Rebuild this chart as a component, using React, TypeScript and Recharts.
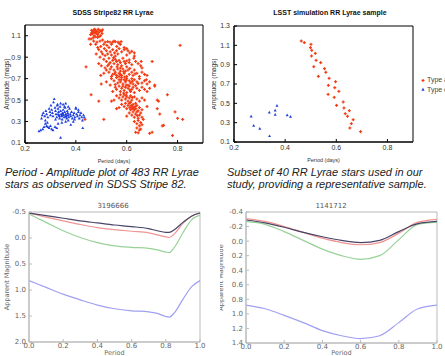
import React from 'react';
import {
  ScatterChart, Scatter, LineChart, Line, XAxis, YAxis, ReferenceArea, Legend,
} from 'recharts';

// SDSS Stripe 82: [period (days), amplitude (mags)]
const sdssTypeAb: [number, number][] = [
  [0.462,1.15],[0.468,1.14],[0.471,1.155],[0.475,1.13],[0.466,1.12],[0.478,1.15],[0.483,1.14],[0.472,1.10],
  [0.48,1.12],[0.486,1.11],[0.463,1.13],[0.49,1.13],[0.495,1.15],[0.5,1.14],[0.503,1.12],[0.476,1.09],
  [0.468,1.08],[0.485,1.085],[0.497,1.10],[0.505,1.155],[0.458,1.11],[0.474,1.16],[0.488,1.16],[0.46,1.07],
  [0.491,1.09],[0.452,1.07],[0.47,1.05],[0.458,1.02],
  [0.515,1.04],[0.525,1.045],[0.534,1.04],[0.545,1.04],[0.555,1.045],[0.566,1.04],[0.578,1.045],[0.505,1.06],
  [0.495,1.05],[0.483,1.04],[0.51,1.02],[0.522,1.01],[0.478,1.02],[0.498,1.00],[0.486,0.99],[0.54,1.02],
  [0.561,1.00],[0.575,1.02],[0.59,0.99],[0.6,0.98],[0.55,1.05],[0.57,1.03],
  [0.49,0.97],[0.5,0.95],[0.512,0.98],[0.52,0.96],[0.53,0.99],[0.535,0.95],[0.545,0.97],[0.552,0.94],
  [0.56,0.96],[0.57,0.98],[0.58,0.95],[0.59,0.97],[0.605,0.96],[0.612,0.94],[0.62,0.955],[0.505,0.93],
  [0.515,0.915],[0.525,0.93],[0.54,0.92],[0.555,0.91],[0.565,0.93],[0.6,0.92],[0.63,0.91],[0.628,0.89],
  [0.48,0.93],[0.495,0.90],
  [0.51,0.88],[0.52,0.86],[0.53,0.89],[0.535,0.85],[0.545,0.87],[0.55,0.84],[0.555,0.88],[0.56,0.86],
  [0.565,0.83],[0.57,0.87],[0.575,0.85],[0.58,0.82],[0.59,0.86],[0.595,0.84],[0.6,0.81],[0.61,0.85],
  [0.62,0.83],[0.635,0.86],[0.645,0.84],[0.655,0.82],[0.66,0.80],[0.54,0.81],[0.525,0.82],[0.515,0.80],
  [0.49,0.84],[0.50,0.82],[0.575,0.80],[0.585,0.89],[0.548,0.895],[0.61,0.875],[0.44,0.81],[0.53,0.835],
  [0.562,0.81],[0.6,0.865],[0.657,0.86],[0.63,0.94],
  [0.52,0.78],[0.53,0.76],[0.535,0.79],[0.545,0.74],[0.55,0.78],[0.555,0.76],[0.56,0.73],[0.565,0.79],
  [0.57,0.75],[0.575,0.77],[0.58,0.73],[0.585,0.79],[0.59,0.75],[0.595,0.77],[0.6,0.72],[0.605,0.78],
  [0.61,0.74],[0.62,0.76],[0.625,0.73],[0.63,0.78],[0.64,0.75],[0.65,0.72],[0.66,0.76],[0.67,0.74],
  [0.68,0.73],[0.51,0.75],[0.498,0.73],[0.54,0.72],[0.57,0.72],[0.588,0.765],[0.612,0.795],[0.553,0.745],
  [0.633,0.745],[0.575,0.74],
  [0.54,0.70],[0.55,0.68],[0.56,0.71],[0.565,0.66],[0.57,0.69],[0.575,0.67],[0.58,0.71],[0.585,0.65],
  [0.59,0.69],[0.595,0.67],[0.6,0.70],[0.605,0.64],[0.61,0.68],[0.615,0.66],[0.62,0.70],[0.625,0.65],
  [0.63,0.69],[0.64,0.67],[0.65,0.70],[0.66,0.66],[0.67,0.68],[0.68,0.65],[0.69,0.67],[0.71,0.64],
  [0.52,0.67],[0.50,0.65],[0.535,0.64],[0.555,0.645],[0.578,0.69],[0.598,0.685],[0.622,0.675],[0.645,0.655],
  [0.592,0.715],[0.677,0.69],
  [0.555,0.62],[0.56,0.60],[0.57,0.63],[0.575,0.58],[0.58,0.61],[0.585,0.63],[0.59,0.59],[0.595,0.62],
  [0.6,0.57],[0.605,0.61],[0.61,0.63],[0.615,0.58],[0.62,0.60],[0.625,0.62],[0.63,0.57],[0.64,0.61],
  [0.65,0.59],[0.66,0.62],[0.67,0.60],[0.68,0.58],[0.69,0.61],[0.545,0.58],[0.588,0.565],[0.612,0.595],
  [0.635,0.635],[0.598,0.64],[0.46,0.55],
  [0.56,0.54],[0.57,0.52],[0.575,0.55],[0.58,0.50],[0.585,0.53],[0.59,0.55],[0.595,0.51],[0.6,0.53],
  [0.605,0.49],[0.61,0.52],[0.615,0.54],[0.62,0.50],[0.63,0.53],[0.64,0.51],[0.65,0.49],[0.66,0.52],
  [0.67,0.50],[0.55,0.50],[0.54,0.49],[0.49,0.49],[0.598,0.545],[0.622,0.525],[0.72,0.50],[0.725,0.49],
  [0.76,0.55],
  [0.58,0.46],[0.59,0.44],[0.595,0.47],[0.6,0.42],[0.605,0.45],[0.61,0.47],[0.612,0.43],[0.615,0.41],
  [0.618,0.45],[0.62,0.44],[0.622,0.42],[0.625,0.46],[0.628,0.43],[0.63,0.41],[0.633,0.44],[0.636,0.42],
  [0.64,0.45],[0.645,0.40],[0.65,0.43],[0.66,0.41],[0.57,0.43],[0.56,0.42],[0.615,0.48],[0.635,0.47],
  [0.72,0.42],[0.68,0.44],
  [0.61,0.38],[0.62,0.36],[0.625,0.39],[0.63,0.34],[0.635,0.37],[0.64,0.39],[0.645,0.33],[0.65,0.36],
  [0.655,0.38],[0.66,0.34],[0.665,0.32],[0.6,0.35],[0.642,0.355],[0.73,0.37],[0.79,0.39],[0.8,0.33],
  [0.82,0.32],[0.51,0.32],[0.436,0.32],
  [0.63,0.30],[0.64,0.28],[0.645,0.31],[0.65,0.26],[0.655,0.29],[0.66,0.27],[0.64,0.24],[0.65,0.22],
  [0.635,0.20],[0.645,0.195],[0.655,0.23],[0.69,0.19],[0.70,0.20],[0.74,0.26],[0.745,0.265],[0.78,0.17],
  [0.81,1.01],[0.70,0.86],[0.71,0.63],
];

const sdssTypeC: [number, number][] = [
  [0.255,0.21],[0.262,0.22],[0.27,0.23],[0.275,0.25],[0.28,0.28],[0.285,0.26],[0.29,0.25],[0.295,0.24],
  [0.3,0.26],[0.305,0.23],[0.31,0.22],[0.318,0.25],[0.325,0.24],[0.265,0.33],[0.268,0.36],[0.272,0.38],
  [0.278,0.35],[0.282,0.40],[0.285,0.37],[0.29,0.34],[0.295,0.42],[0.298,0.39],[0.3,0.36],[0.302,0.45],
  [0.305,0.41],[0.308,0.38],[0.31,0.35],[0.312,0.48],[0.315,0.51],[0.318,0.43],[0.32,0.40],[0.322,0.37],
  [0.325,0.34],[0.327,0.45],[0.33,0.42],[0.332,0.39],[0.334,0.36],[0.336,0.33],[0.338,0.44],[0.34,0.40],
  [0.342,0.37],[0.344,0.35],[0.346,0.32],[0.348,0.38],[0.35,0.41],[0.352,0.36],[0.354,0.34],[0.356,0.39],
  [0.358,0.43],[0.36,0.37],[0.362,0.35],[0.364,0.33],[0.366,0.40],[0.368,0.38],[0.37,0.36],[0.372,0.34],
  [0.375,0.42],[0.378,0.37],[0.38,0.35],[0.383,0.39],[0.386,0.33],[0.39,0.36],[0.393,0.38],[0.396,0.34],
  [0.4,0.42],[0.403,0.37],[0.406,0.35],[0.41,0.39],[0.413,0.33],[0.416,0.36],[0.42,0.38],[0.423,0.34],
  [0.426,0.31],[0.43,0.36],[0.433,0.34],[0.427,0.24],[0.34,0.15],[0.33,0.28],[0.345,0.29],[0.36,0.30],
  [0.37,0.31],[0.38,0.27],[0.39,0.30],[0.35,0.46],[0.36,0.47],[0.355,0.44],[0.328,0.46],[0.34,0.47],
  [0.37,0.44],[0.4,0.43],[0.41,0.41],[0.395,0.32],[0.335,0.35],[0.345,0.355],[0.36,0.345],[0.365,0.36],
  [0.35,0.37],[0.33,0.37],[0.32,0.32],[0.28,0.31],[0.288,0.29],
];

// LSST simulation subset (40 stars)
const lsstTypeAb: [number, number][] = [
  [0.463,1.145],[0.475,1.128],[0.501,1.110],[0.499,1.076],[0.504,1.048],[0.518,1.017],[0.503,0.990],
  [0.521,0.945],[0.512,0.879],[0.539,0.921],[0.554,0.859],[0.559,0.821],[0.530,0.779],[0.572,0.759],
  [0.597,0.724],[0.569,0.686],[0.594,0.662],[0.610,0.624],[0.568,0.593],[0.592,0.562],[0.601,0.479],
  [0.627,0.514],[0.630,0.452],[0.651,0.424],[0.635,0.393],[0.644,0.366],[0.666,0.331],[0.659,0.290],
  [0.653,0.245],[0.695,0.207],
];
const lsstTypeC: [number, number][] = [
  [0.267,0.366],[0.277,0.269],[0.301,0.238],[0.338,0.407],[0.361,0.428],[0.368,0.476],[0.361,0.383],
  [0.408,0.379],[0.421,0.362],[0.339,0.162],
];

// light curves: phase and apparent magnitude per band
const phaseA = [0, 0.1, 0.2, 0.3, 0.4, 0.5, 0.6, 0.7, 0.75, 0.8, 0.82, 0.85, 0.9, 0.95, 1.0];
const blackA = [-0.48, -0.43, -0.38, -0.33, -0.29, -0.25, -0.22, -0.18, -0.14, -0.11, -0.11, -0.16, -0.30, -0.42, -0.48];
const redA = [-0.48, -0.40, -0.33, -0.26, -0.20, -0.16, -0.13, -0.10, -0.06, -0.02, -0.01, -0.08, -0.28, -0.42, -0.48];
const greenA = [-0.46, -0.30, -0.14, -0.01, 0.09, 0.15, 0.18, 0.20, 0.23, 0.27, 0.28, 0.18, -0.10, -0.35, -0.44];
const blueA = [0.82, 0.95, 1.08, 1.19, 1.29, 1.36, 1.40, 1.42, 1.45, 1.51, 1.52, 1.44, 1.18, 0.94, 0.82];

const phaseB = [0, 0.1, 0.2, 0.3, 0.4, 0.5, 0.6, 0.7, 0.8, 0.9, 1.0];
const blackB = [-0.29, -0.25, -0.19, -0.12, -0.06, -0.01, 0.02, -0.01, -0.13, -0.24, -0.27];
const redB = [-0.31, -0.27, -0.20, -0.12, -0.04, 0.02, 0.05, 0.02, -0.11, -0.26, -0.30];
const greenB = [-0.27, -0.23, -0.13, -0.01, 0.11, 0.20, 0.25, 0.20, -0.02, -0.23, -0.26];
const blueB = [0.88, 0.93, 1.02, 1.12, 1.23, 1.30, 1.34, 1.30, 1.12, 0.93, 0.88];

const toPoints = (arr: [number, number][]) => arr.map(([p, a]) => ({ period: p, amp: a }));
const toRows = (ph: number[], k: number[], r: number[], g: number[], b: number[]) =>
  ph.map((x, i) => ({ phase: x, black: k[i], red: r[i], green: g[i], blue: b[i] }));

const RED = '#f23c14';
const BLUE = '#2040dc';
const GP_FONT = '"Liberation Sans", Arial, sans-serif';
const MPL_FONT = '"DejaVu Sans", sans-serif';

// gnuplot-ish "+" for type ab, small triangle for type c
const redMark = (p: any) => (
  <g fill={RED}>
    <rect x={p.cx - 1.5} y={p.cy - 0.6} width={3} height={1.2} />
    <rect x={p.cx - 0.6} y={p.cy - 1.5} width={1.2} height={3} />
  </g>
);
const blueMark = (p: any) => (
  <path d={`M${p.cx},${p.cy - 1.6}L${p.cx + 1.5},${p.cy + 1.1}L${p.cx - 1.5},${p.cy + 1.1}Z`} fill={BLUE} />
);

const gpTick = { fontSize: 7, fill: '#333', fontFamily: GP_FONT };
const mplTick = { fontSize: 7, fill: '#666', fontFamily: MPL_FONT };

function TypeLegend(props: any) {
  const items = props.payload || [];
  return (
    <div style={{ fontSize: 7, fontFamily: GP_FONT, color: '#444', lineHeight: '9.5px', whiteSpace: 'nowrap' }}>
      {items.map((it: any) => (
        <div key={it.value}>
          <svg width={4} height={5} style={{ marginRight: 2, verticalAlign: 'middle' }}>
            {it.value === 'Type ab'
              ? <g fill={RED}><rect x={0.5} y={1.9} width={3} height={1.2} /><rect x={1.4} y={1} width={1.2} height={3} /></g>
              : <path d="M2,0.8L3.6,3.8L0.4,3.8Z" fill={BLUE} />}
          </svg>
          {it.value}
        </div>
      ))}
    </div>
  );
}

function Title({ text, x, y, bold, font }: { text: string; x: number; y: number; bold?: boolean; font: string }) {
  return (
    <div style={{ position: 'absolute', left: x - 100, top: y, width: 200, textAlign: 'center', fontSize: 7, fontWeight: bold ? 700 : 400, color: bold ? '#111' : '#555', fontFamily: font }}>
      {text}
    </div>
  );
}

export default function App() {
  return (
    <div style={{ position: 'absolute', left: 0, top: 0, width: 445, height: 356, background: '#fff', overflow: 'hidden' }}>
      <Title text="SDSS Stripe82 RR Lyrae" x={113} y={9} bold font={GP_FONT} />
      <Title text="LSST simulation RR Lyrae sample" x={330} y={9} bold font={GP_FONT} />

      <div style={{ position: 'absolute', left: 0, top: 0 }}>
        <ScatterChart width={210} height={165} margin={{ top: 25, right: 7, bottom: 0, left: 0 }}>
          <XAxis type="number" dataKey="period" domain={[0.2, 0.9]} ticks={[0.2, 0.4, 0.6, 0.8]}
            tick={gpTick} tickSize={-3} tickMargin={6} height={22} axisLine={{ stroke: '#000' }} tickLine={{ stroke: '#000' }}
            label={{ value: 'Period (days)', position: 'insideBottom', offset: 2, style: { fontSize: 5.5, fill: '#333', fontFamily: GP_FONT } }} />
          <YAxis type="number" dataKey="amp" domain={[0.1, 1.2]} ticks={[0.1, 0.3, 0.5, 0.7, 0.9, 1.1]}
            tick={gpTick} tickSize={-3} tickMargin={7} width={25} axisLine={{ stroke: '#000' }} tickLine={{ stroke: '#000' }}
            label={{ value: 'Amplitude (mags)', angle: -90, position: 'insideLeft', offset: 7, style: { textAnchor: 'middle', fontSize: 6.5, fill: '#333', fontFamily: GP_FONT } }} />
          <ReferenceArea x1={0.2} x2={0.9} y1={0.1} y2={1.2} fill="none" stroke="#000" strokeWidth={1} />
          <Scatter data={toPoints(sdssTypeAb)} shape={redMark} isAnimationActive={false} />
          <Scatter data={toPoints(sdssTypeC)} shape={blueMark} isAnimationActive={false} />
        </ScatterChart>
      </div>

      <div style={{ position: 'absolute', left: 212, top: 0 }}>
        <ScatterChart width={233} height={165} margin={{ top: 26, right: 32, bottom: 0, left: 0 }}>
          <XAxis type="number" dataKey="period" domain={[0.2, 0.9]} ticks={[0.2, 0.4, 0.6, 0.8]}
            tick={gpTick} tickSize={-3} tickMargin={6} height={23} axisLine={{ stroke: '#000' }} tickLine={{ stroke: '#000' }}
            label={{ value: 'Period (days)', position: 'insideBottom', offset: 3, style: { fontSize: 5.5, fill: '#333', fontFamily: GP_FONT } }} />
          <YAxis type="number" dataKey="amp" domain={[0.1, 1.3]} ticks={[0.1, 0.3, 0.5, 0.7, 0.9, 1.1, 1.3]}
            tick={gpTick} tickSize={-3} tickMargin={7} width={22} axisLine={{ stroke: '#000' }} tickLine={{ stroke: '#000' }}
            label={{ value: 'Amplitude (mags)', angle: -90, position: 'insideLeft', offset: 2, style: { textAnchor: 'middle', fontSize: 6.5, fill: '#333', fontFamily: GP_FONT } }} />
          <ReferenceArea x1={0.2} x2={0.9} y1={0.1} y2={1.3} fill="none" stroke="#000" strokeWidth={1} />
          <Legend layout="vertical" align="center" verticalAlign="middle" content={<TypeLegend />}
            wrapperStyle={{ left: 209, top: 75, width: 40 }} />
          <Scatter name="Type ab" fill={RED} data={toPoints(lsstTypeAb)} shape={redMark} isAnimationActive={false} />
          <Scatter name="Type c" fill={BLUE} data={toPoints(lsstTypeC)} shape={blueMark} isAnimationActive={false} />
        </ScatterChart>
      </div>

      <div style={{ position: 'absolute', left: 5, top: 166, width: 215, fontSize: 11, lineHeight: '12px', fontStyle: 'italic', fontFamily: GP_FONT, color: '#222' }}>
        Period - Amplitude plot of 483 RR Lyrae<br />stars as observed in SDSS Stripe 82.
      </div>
      <div style={{ position: 'absolute', left: 227, top: 166, width: 225, fontSize: 11, lineHeight: '12px', fontStyle: 'italic', fontFamily: GP_FONT, color: '#222', whiteSpace: 'nowrap' }}>
        Subset of 40 RR Lyrae stars used in our<br />study, providing a representative sample.
      </div>

      <Title text="3196666" x={113} y={202} font={MPL_FONT} />
      <Title text="1141712" x={331} y={202} font={MPL_FONT} />

      <div style={{ position: 'absolute', left: 0, top: 200 }}>
        <LineChart width={210} height={156} data={toRows(phaseA, blackA, redA, greenA, blueA)} margin={{ top: 12, right: 10, bottom: 0, left: 0 }}>
          <XAxis type="number" dataKey="phase" domain={[0, 1]} ticks={[0, 0.2, 0.4, 0.6, 0.8, 1.0]} tickFormatter={(v: number) => v.toFixed(1)}
            tick={mplTick} tickSize={-3} tickMargin={4} height={14} axisLine={{ stroke: '#bbb' }} tickLine={{ stroke: '#bbb' }}
            label={{ value: 'Period', position: 'insideBottom', offset: 1, style: { fontSize: 6.5, fill: '#666', fontFamily: MPL_FONT } }} />
          <YAxis type="number" reversed domain={[-0.5, 2.0]} ticks={[-0.5, 0, 0.5, 1.0, 1.5, 2.0]} tickFormatter={(v: number) => v.toFixed(1)}
            tick={mplTick} tickSize={-3} tickMargin={6} width={29} axisLine={{ stroke: '#bbb' }} tickLine={{ stroke: '#bbb' }}
            label={{ value: 'Apparent Magnitude', angle: -90, position: 'insideLeft', offset: 7, style: { textAnchor: 'middle', fontSize: 6.5, fill: '#666', fontFamily: MPL_FONT } }} />
          <ReferenceArea x1={0} x2={1} y1={-0.5} y2={2.0} fill="none" stroke="#bbb" />
          <Line dataKey="green" type="monotone" stroke="#98d298" strokeWidth={1.2} dot={false} isAnimationActive={false} />
          <Line dataKey="blue" type="monotone" stroke="#a0a0f2" strokeWidth={1.2} dot={false} isAnimationActive={false} />
          <Line dataKey="red" type="monotone" stroke="#f09494" strokeWidth={1.2} dot={false} isAnimationActive={false} />
          <Line dataKey="black" type="monotone" stroke="#4a4466" strokeWidth={1.2} dot={false} isAnimationActive={false} />
        </LineChart>
      </div>

      <div style={{ position: 'absolute', left: 220, top: 200 }}>
        <LineChart width={225} height={156} data={toRows(phaseB, blackB, redB, greenB, blueB)} margin={{ top: 12, right: 8, bottom: 0, left: 0 }}>
          <XAxis type="number" dataKey="phase" domain={[0, 1]} ticks={[0, 0.2, 0.4, 0.6, 0.8, 1.0]} tickFormatter={(v: number) => v.toFixed(1)}
            tick={mplTick} tickSize={-3} tickMargin={4} height={13} axisLine={{ stroke: '#bbb' }} tickLine={{ stroke: '#bbb' }}
            label={{ value: 'Period', position: 'insideBottom', offset: 1, style: { fontSize: 6.5, fill: '#666', fontFamily: MPL_FONT } }} />
          <YAxis type="number" reversed domain={[-0.4, 1.4]} ticks={[-0.4, -0.2, 0, 0.2, 0.4, 0.6, 0.8, 1.0, 1.2, 1.4]} tickFormatter={(v: number) => v.toFixed(1)}
            tick={mplTick} tickSize={-3} tickMargin={6} width={26} axisLine={{ stroke: '#bbb' }} tickLine={{ stroke: '#bbb' }}
            label={{ value: 'Apparent Magnitude', angle: -90, position: 'insideLeft', offset: 1, style: { textAnchor: 'middle', fontSize: 6.5, fill: '#666', fontFamily: MPL_FONT } }} />
          <ReferenceArea x1={0} x2={1} y1={-0.4} y2={1.4} fill="none" stroke="#bbb" />
          <Line dataKey="green" type="monotone" stroke="#98d298" strokeWidth={1.2} dot={false} isAnimationActive={false} />
          <Line dataKey="blue" type="monotone" stroke="#a0a0f2" strokeWidth={1.2} dot={false} isAnimationActive={false} />
          <Line dataKey="red" type="monotone" stroke="#f09494" strokeWidth={1.2} dot={false} isAnimationActive={false} />
          <Line dataKey="black" type="monotone" stroke="#4a4466" strokeWidth={1.2} dot={false} isAnimationActive={false} />
        </LineChart>
      </div>
    </div>
  );
}
